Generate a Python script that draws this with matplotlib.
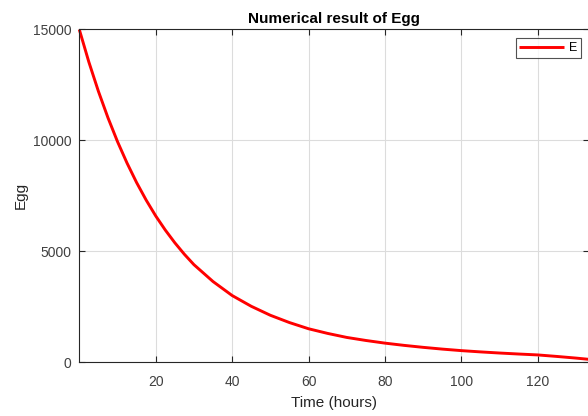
import matplotlib
matplotlib.use("Agg")
import matplotlib.pyplot as plt

plt.rcParams['font.family'] = ['Liberation Sans', 'DejaVu Sans']

time_hours = [0, 2.5, 5, 7.5, 10, 12.5, 15, 17.5, 20, 22.5, 25, 27.5, 30, 35,
              40, 45, 50, 55, 60, 65, 70, 75, 80, 85, 90, 95, 100, 105, 110,
              115, 120, 125, 130, 133.3]
egg = [15000, 13535, 12215, 11023, 9946, 8977, 8100, 7311, 6597, 5962, 5388,
       4869, 4401, 3640, 3010, 2525, 2120, 1791, 1512, 1302, 1121, 984, 864,
       763, 674, 595, 526, 469, 418, 373, 332, 264, 190, 135]
x_ticks = [20, 40, 60, 80, 100, 120]
y_ticks = [0, 5000, 10000, 15000]

W, H = 588, 416
fig = plt.figure(figsize=(W / 100, H / 100), dpi=100)
left_px, right_px, top_px, bottom_px = 79.3, 588.6, 29.5, 362.3
ax = fig.add_axes([left_px / W, (H - bottom_px) / H,
                   (right_px - left_px) / W, (bottom_px - top_px) / H])

ax.plot(time_hours, egg, color='#ff0000', linewidth=2.1, label='E',
        solid_capstyle='butt', clip_on=False)

ax.set_xlim(0, 133.3)
ax.set_ylim(0, 15000)
ax.set_xticks(x_ticks)
ax.set_yticks(y_ticks)

dark = '#262626'
ax.grid(True, color='#dcdcdc', linewidth=0.8)
ax.set_axisbelow(True)
for s in ax.spines.values():
    s.set_color(dark)
    s.set_linewidth(0.8)
ax.tick_params(direction='in', top=True, right=True, length=4, width=0.8,
               colors=dark, labelsize=10, labelcolor='#404040')
ax.tick_params(axis='x', pad=9)
ax.tick_params(axis='y', pad=5.5)

ax.set_title('Numerical result of Egg', fontsize=11, fontweight='bold',
             color='#000000', pad=5)
ax.set_xlabel('Time (hours)', fontsize=11, color=dark, labelpad=5)
ax.set_ylabel('Egg', fontsize=11, color=dark, labelpad=4)

leg = ax.legend(loc='upper right', bbox_to_anchor=(0.993, 0.985), fontsize=9,
                frameon=True, fancybox=False, handlelength=3.6,
                borderpad=0.3, handletextpad=0.4, borderaxespad=0.3)
leg.get_frame().set_edgecolor(dark)
leg.get_frame().set_linewidth(0.8)

fig.savefig('out.png', dpi=100)
